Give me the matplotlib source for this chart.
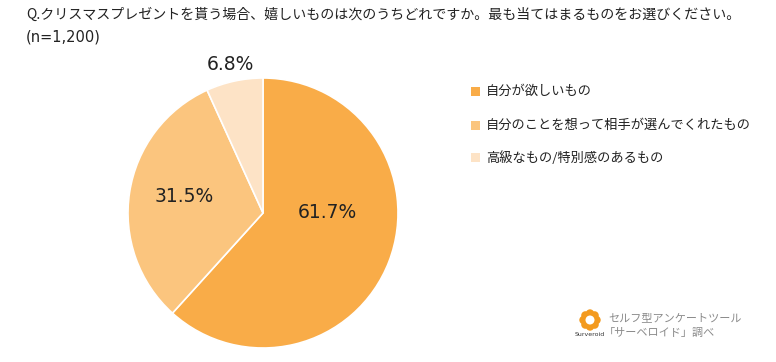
import numpy as np
import matplotlib
matplotlib.use('Agg')
import matplotlib.pyplot as plt
from matplotlib.patches import Circle, Rectangle

plt.rcParams['font.family'] = ['Noto Sans CJK JP', 'DejaVu Sans']

# data
labels = ['自分が欲しいもの', '自分のことを想って相手が選んでくれたもの', '高級なもの/特別感のあるもの']
values = [61.7, 31.5, 6.8]
colors = ['#F9AC48', '#FBC57E', '#FDE3C6']
title = 'Q.クリスマスプレゼントを貰う場合、嬉しいものは次のうちどれですか。最も当てはまるものをお選びください。'
subtitle = '(n=1,200)'

W, H = 776, 362
fig = plt.figure(figsize=(W / 100, H / 100), dpi=100)
fig.patch.set_facecolor('white')

fig.text(26 / W, 1 - 15 / H, title, fontsize=10.1, va='center', ha='left', color='#222222')
fig.text(26 / W, 1 - 37 / H, subtitle, fontsize=10.5, va='center', ha='left', color='#222222',
         family=['DejaVu Sans'])

# pie
ax = fig.add_axes([128 / W, 14 / H, 270 / W, 270 / H])
wedges, texts, autotexts = ax.pie(values, colors=colors, startangle=90, counterclock=False,
                                  autopct='%.1f%%', pctdistance=0.6,
                                  wedgeprops=dict(linewidth=1.2, edgecolor='white'),
                                  textprops=dict(fontsize=14, color='#222222'))
ax.set_xlim(-1, 1)
ax.set_ylim(-1, 1)
ax.set_aspect('equal')

# label placement (radius, angle deg)
label_pos = [(0.48, 0), (0.6, 168), (1.13, 102.5)]
for t, (r, a) in zip(autotexts, label_pos):
    t.set_position((r * np.cos(np.radians(a)), r * np.sin(np.radians(a))))
    t.set_ha('center')
    t.set_va('center')
    t.set_family(['DejaVu Sans'])
    t.set_fontsize(13.5)
    t.set_clip_on(False)

# legend
ys = [91, 125, 158]
for lab, c, y in zip(labels, colors, ys):
    fig.patches.append(Rectangle((471 / W, 1 - (y + 4.5) / H), 9 / W, 9 / H,
                                 transform=fig.transFigure, facecolor=c, edgecolor='none'))
    fig.text(486 / W, 1 - y / H, lab, fontsize=9.5, va='center', ha='left', color='#222222')

# logo
lax = fig.add_axes([575 / W, 20 / H, 30 / W, 36 / H])
lax.set_xlim(0, 30)
lax.set_ylim(0, 36)
lax.axis('off')
for k in range(8):
    a = np.radians(k * 45)
    lax.add_patch(Circle((15 + 6.5 * np.cos(a), 22 + 6.5 * np.sin(a)), 4.2,
                         facecolor='#F39A1E', edgecolor='none'))
lax.add_patch(Circle((15, 22), 4.5, facecolor='white', edgecolor='none'))
lax.text(15, 7, 'Surveroid', fontsize=4.5, ha='center', va='center', color='#333333',
         family=['DejaVu Sans'])

fig.text(608 / W, 1 - 318 / H, 'セルフ型アンケートツール', fontsize=8, va='center', ha='left', color='#8a8a8a')
fig.text(604 / W, 1 - 333 / H, '「サーベロイド」調べ', fontsize=8, va='center', ha='left', color='#8a8a8a')

fig.savefig('out.png', dpi=100, facecolor='white')
